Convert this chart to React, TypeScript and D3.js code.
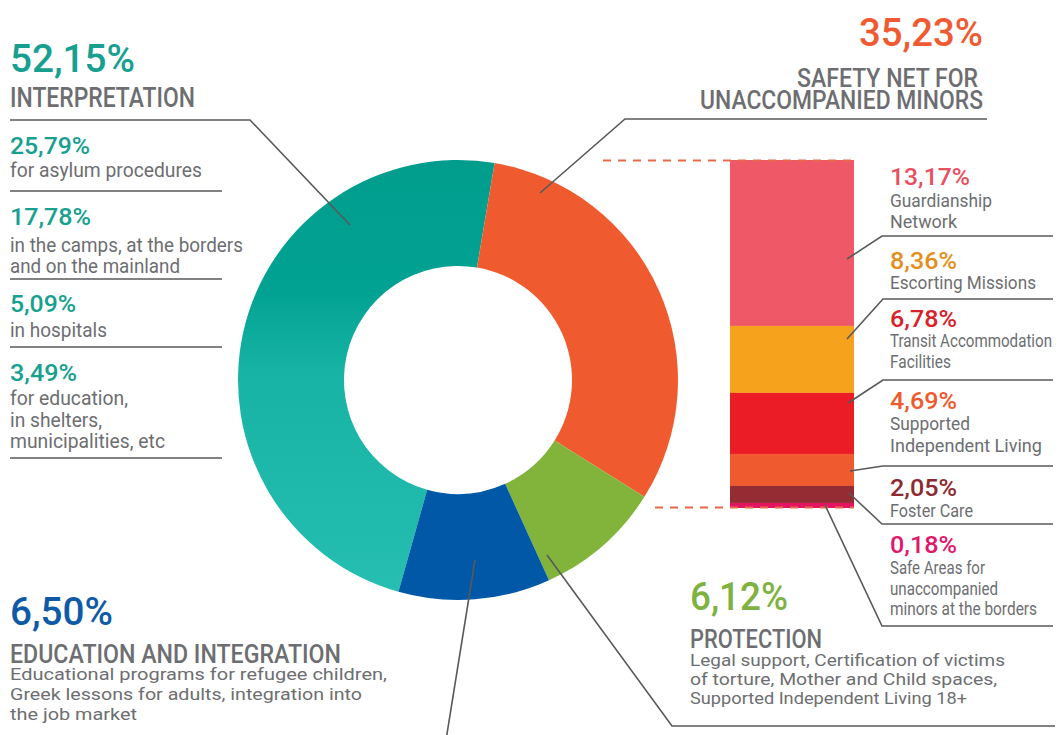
import React from "react";
import * as d3 from "d3";

// ---------- DATA ----------
const mainCategories = [
  "INTERPRETATION",
  "SAFETY NET FOR UNACCOMPANIED MINORS",
  "PROTECTION",
  "EDUCATION AND INTEGRATION",
];
const mainValues = [52.15, 35.23, 6.12, 6.5]; // reported shares
const mainDrawnShares = [48.3, 31.25, 9.3, 11.15]; // slice sizes as drawn in the donut

const interpretationValues = [25.79, 17.78, 5.09, 3.49];
const interpretationLabels = [
  ["for asylum procedures"],
  ["in the camps, at the borders", "and on the mainland"],
  ["in hospitals"],
  ["for education,", "in shelters,", "municipalities, etc"],
];

const minorsValues = [13.17, 8.36, 6.78, 4.69, 2.05, 0.18];
const minorsDrawnShares = [16.8, 6.78, 6.18, 3.24, 1.72, 0.51]; // segment heights as drawn
const minorsLabels = [
  ["Guardianship", "Network"],
  ["Escorting Missions"],
  ["Transit Accommodation", "Facilities"],
  ["Supported", "Independent Living"],
  ["Foster Care"],
  ["Safe Areas for", "unaccompanied", "minors at the borders"],
];

const educationText = [
  "Educational programs for refugee children,",
  "Greek lessons for adults, integration into",
  "the job market",
];
const protectionText = [
  "Legal support, Certification of victims",
  "of torture, Mother and Child spaces,",
  "Supported Independent Living 18+",
];

// ---------- STYLE ----------
const FONT = "Roboto, 'DejaVu Sans Condensed', 'Liberation Sans Narrow', sans-serif";
const GRAY = "#6d6e71";
const LINE = "#58595b";
const mainColors = ["url(#tealGrad)", "#f05a2f", "#82b43c", "#0058a7"];
const mainTextColors = ["#17a090", "#ef5a32", "#7fb241", "#0e5aa7"];
const minorsColors = ["#ef5866", "#f7a21c", "#ec1c26", "#f05a2f", "#952b33", "#e31563"];
const minorsTextColors = ["#e9505f", "#e38f20", "#d8232a", "#ee5a2e", "#8e2a31", "#e0186b"];

const pct = (v: number) => d3.format(".2f")(v).replace(".", ",") + "%";

// ---------- LAYOUT ----------
const CX = 458, CY = 380, R_OUT = 220, R_IN = 114;
const BAR_X0 = 730, BAR_X1 = 854, BAR_TOP = 160, BAR_BOT = 508;

type T = { t: string; x: number; y: number; s: number; c: string; w?: number; len: number };

const Txt = ({ t, x, y, s, c, w = 400, len }: T) => (
  <text
    x={x}
    y={y}
    fontSize={s}
    fill={c}
    fontWeight={w}
    textLength={len}
    lengthAdjust="spacingAndGlyphs"
    fontFamily={FONT}
  >
    {t}
  </text>
);

export default function App() {
  const pie = d3
    .pie<number>()
    .sort(null)
    .value((d) => d)
    .startAngle((195.7 * Math.PI) / 180)
    .endAngle((195.7 * Math.PI) / 180 + 2 * Math.PI);
  const arcs = pie(mainDrawnShares);
  const arc = d3.arc<d3.PieArcDatum<number>>().innerRadius(R_IN).outerRadius(R_OUT);

  const barScale = d3
    .scaleLinear()
    .domain([0, d3.sum(minorsDrawnShares)])
    .range([BAR_TOP, BAR_BOT]);
  const cum = d3.cumsum(minorsDrawnShares);
  const segs = minorsDrawnShares.map((v, i) => ({
    y0: barScale(cum[i] - v),
    y1: barScale(cum[i]),
    color: minorsColors[i],
  }));

  const texts: T[] = [];
  // Interpretation block
  texts.push({ t: pct(mainValues[0]), x: 10, y: 72, s: 38, c: mainTextColors[0], w: 500, len: 125 });
  texts.push({ t: mainCategories[0], x: 10, y: 107, s: 28, c: GRAY, w: 500, len: 185 });
  const intPctY = [154, 225, 312, 381];
  const intPctLen = [80, 81, 66, 67];
  const intBodyY = [[177], [252, 273], [337], [405, 427, 448]];
  const intBodyLen = [[192], [233, 170], [97], [118, 92, 155]];
  interpretationValues.forEach((v, i) => {
    texts.push({ t: pct(v), x: 10, y: intPctY[i], s: 24, c: mainTextColors[0], w: 500, len: intPctLen[i] });
    interpretationLabels[i].forEach((l, j) =>
      texts.push({ t: l, x: 10, y: intBodyY[i][j], s: 20, c: GRAY, len: intBodyLen[i][j] })
    );
  });
  // Minors block
  texts.push({ t: pct(mainValues[1]), x: 859, y: 46, s: 38, c: mainTextColors[1], w: 500, len: 124 });
  texts.push({ t: "SAFETY NET FOR", x: 797, y: 87, s: 25, c: GRAY, w: 500, len: 181 });
  texts.push({ t: "UNACCOMPANIED MINORS", x: 700, y: 109, s: 25, c: GRAY, w: 500, len: 283 });
  const minPctY = [185, 269, 327, 409, 496, 553];
  const minPctLen = [80, 67, 67, 67, 67, 67];
  const minBodyY = [[207, 228], [289], [347, 368], [430, 452], [517], [574, 595, 615]];
  const minBodyLen = [[102, 67], [146], [162, 61], [80, 152], [83], [95, 108, 147]];
  minorsValues.forEach((v, i) => {
    texts.push({ t: pct(v), x: 890, y: minPctY[i], s: 23, c: minorsTextColors[i], w: 500, len: minPctLen[i] });
    minorsLabels[i].forEach((l, j) =>
      texts.push({ t: l, x: 890, y: minBodyY[i][j], s: 18, c: GRAY, len: minBodyLen[i][j] })
    );
  });
  // Education block
  texts.push({ t: pct(mainValues[3]), x: 10, y: 625, s: 38, c: mainTextColors[3], w: 500, len: 103 });
  texts.push({ t: mainCategories[3], x: 10, y: 663, s: 25, c: GRAY, w: 500, len: 331 });
  const eduY = [680, 700, 720];
  const eduLen = [377, 352, 127];
  educationText.forEach((l, j) => texts.push({ t: l, x: 10, y: eduY[j], s: 17, c: GRAY, len: eduLen[j] }));
  // Protection block
  texts.push({ t: pct(mainValues[2]), x: 690, y: 610, s: 38, c: mainTextColors[2], w: 500, len: 98 });
  texts.push({ t: mainCategories[2], x: 690, y: 648, s: 25, c: GRAY, w: 500, len: 132 });
  const proY = [666, 685, 704];
  const proLen = [315, 307, 277];
  protectionText.forEach((l, j) => texts.push({ t: l, x: 690, y: proY[j], s: 17, c: GRAY, len: proLen[j] }));

  const leaders: [number, number][][] = [
    [[10, 120], [250, 120], [350, 225]],
    [[10, 191], [222, 191]],
    [[10, 279], [222, 279]],
    [[10, 347], [222, 347]],
    [[10, 458], [222, 458]],
    [[987, 119], [625, 119], [540, 193]],
    [[1053, 236], [882, 236], [847, 259]],
    [[1053, 299], [883, 299], [847, 339]],
    [[1053, 380], [883, 380], [848, 403]],
    [[1053, 466], [883, 466], [850, 471]],
    [[849, 493], [882, 524], [1053, 524]],
    [[825, 505], [882, 626], [1053, 626]],
    [[475, 560], [446, 740]],
    [[547, 555], [672, 726], [1055, 726]],
  ];
  const line = d3.line();

  return (
    <svg
      width={1061}
      height={735}
      style={{ position: "absolute", left: 0, top: 0, background: "#fff" }}
    >
      <defs>
        <linearGradient id="tealGrad" gradientUnits="userSpaceOnUse" x1={0} y1={-R_OUT} x2={0} y2={R_OUT}>
          <stop offset="0" stopColor="#009d8d" />
          <stop offset="0.3" stopColor="#02a292" />
          <stop offset="0.48" stopColor="#17b3a5" />
          <stop offset="1" stopColor="#26bfb1" />
        </linearGradient>
      </defs>
      <g transform={`translate(${CX},${CY})`}>
        {arcs.map((a, i) => (
          <path key={i} d={arc(a) || ""} fill={mainColors[i]} />
        ))}
      </g>
      {segs.map((s, i) => (
        <rect key={i} x={BAR_X0} y={s.y0} width={BAR_X1 - BAR_X0} height={s.y1 - s.y0} fill={s.color} />
      ))}
      <line x1={603} x2={BAR_X1} y1={BAR_TOP + 0.5} y2={BAR_TOP + 0.5} stroke="#e8694a" strokeWidth={2} strokeDasharray="8 7" />
      <line x1={655} x2={BAR_X1} y1={BAR_BOT - 0.5} y2={BAR_BOT - 0.5} stroke="#e8694a" strokeWidth={2} strokeDasharray="8 7" />
      {leaders.map((p, i) => (
        <path key={i} d={line(p) || ""} fill="none" stroke={LINE} strokeWidth={1.6} />
      ))}
      {texts.map((t, i) => (
        <Txt key={i} {...t} />
      ))}
    </svg>
  );
}
